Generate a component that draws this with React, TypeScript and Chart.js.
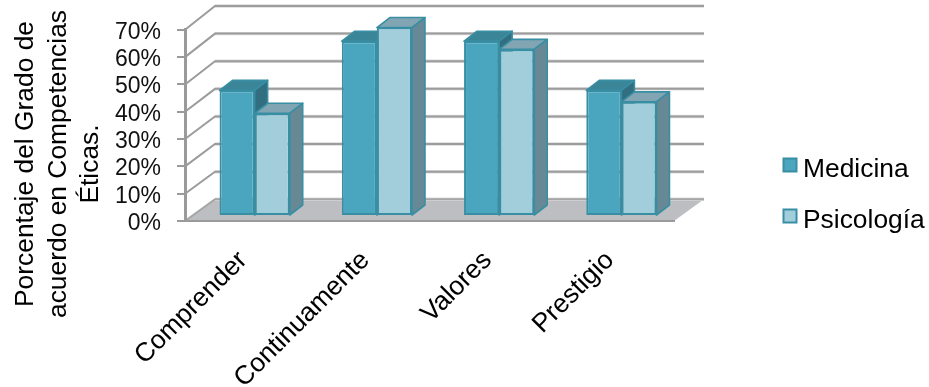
import React, { useEffect, useRef } from "react";
import { Chart, registerables } from "chart.js";

Chart.register(...registerables);

const categories = ["Comprender", "Continuamente", "Valores", "Prestigio"];
const medicina = [46, 64, 64, 46];
const psicologia = [37.6, 69, 61, 41.8];
const yTicks = [0, 10, 20, 30, 40, 50, 60, 70];
const axisTitle = ["Porcentaje del Grado de", "acuerdo en Competencias", "Éticas."];

const FONT = '"Liberation Sans", Arial, sans-serif';

// Depth vectors of the box: wall from the front plane, bars from the front plane, bar thickness.
const WALL = { dx: 30, dyBottom: -21.7, dyTop: -23.8 };
const BAR_SHIFT = { dx: 8.5, dy: -5 };
const BAR_DEPTH = { dx: 13, dy: -10 };

const palette = [
  { fill: "#4aa6bf", top: "#3a8698", side: "#316f80", edge: "#388ea3" },
  { fill: "#a2cedc", top: "#82a5b4", side: "#678995", edge: "#388ea3" },
];

function poly(ctx: CanvasRenderingContext2D, pts: number[][]) {
  ctx.beginPath();
  pts.forEach(([x, y], i) => (i ? ctx.lineTo(x, y) : ctx.moveTo(x, y)));
  ctx.closePath();
}

const box3d = {
  id: "box3d",
  // Floor, back wall lines and left wall diagonals sit behind the axes.
  beforeDraw(chart: any) {
    const { ctx, chartArea: a, scales } = chart;
    const y = scales.y;
    ctx.save();
    poly(ctx, [
      [a.left, a.bottom],
      [a.right, a.bottom],
      [a.right + WALL.dx, a.bottom + WALL.dyBottom],
      [a.left + WALL.dx, a.bottom + WALL.dyBottom],
    ]);
    ctx.fillStyle = "#bcbec2";
    ctx.fill();
    yTicks.forEach((v) => {
      const py = y.getPixelForValue(v);
      const back = py + WALL.dyBottom + ((WALL.dyTop - WALL.dyBottom) * v) / 70;
      ctx.lineWidth = 3.4;
      ctx.strokeStyle = "#dcdcdc";
      ctx.beginPath();
      ctx.moveTo(a.left + WALL.dx, back);
      ctx.lineTo(a.right + WALL.dx, back);
      ctx.stroke();
      ctx.lineWidth = 2;
      ctx.strokeStyle = v === 0 ? "#a5a5a5" : "#9c9c9c";
      ctx.beginPath();
      ctx.moveTo(a.left, py);
      ctx.lineTo(a.left + WALL.dx, back);
      ctx.lineTo(a.right + WALL.dx, back);
      ctx.stroke();
    });
    ctx.restore();
  },
  // Tops and sides of the bars, then the fronts are drawn by the bar controller on the shifted plane.
  beforeDatasetsDraw(chart: any) {
    const { ctx } = chart;
    ctx.save();
    ctx.translate(BAR_SHIFT.dx, BAR_SHIFT.dy);
    [0, 1].forEach((ds) => {
      const c = palette[ds];
      chart.getDatasetMeta(ds).data.forEach((bar: any) => {
        const { x, y, base, width } = bar.getProps(["x", "y", "base", "width"]);
        const l = x - width / 2;
        const r = x + width / 2;
        const { dx, dy } = BAR_DEPTH;
        ctx.lineWidth = 1.6;
        ctx.lineJoin = "round";
        ctx.strokeStyle = c.edge;
        poly(ctx, [[l, y], [r, y], [r + dx, y + dy], [l + dx, y + dy]]);
        ctx.fillStyle = c.top;
        ctx.fill();
        ctx.stroke();
        poly(ctx, [[r, y], [r + dx, y + dy], [r + dx, base + dy], [r, base]]);
        ctx.fillStyle = c.side;
        ctx.fill();
        ctx.stroke();
      });
    });
  },
  afterDatasetsDraw(chart: any) {
    chart.ctx.restore();
  },
  // Three-line rotated axis caption and the key on the right.
  afterDraw(chart: any) {
    const { ctx } = chart;
    ctx.save();
    ctx.fillStyle = "#000";
    ctx.font = `26.4px ${FONT}`;
    ctx.textAlign = "center";
    ctx.textBaseline = "alphabetic";
    const baselines = [33.3, 65.7, 97.7];
    axisTitle.forEach((line, i) => {
      ctx.save();
      ctx.translate(baselines[i], 164);
      ctx.rotate(-Math.PI / 2);
      ctx.fillText(line, 0, 0);
      ctx.restore();
    });
    ctx.textAlign = "left";
    chart.data.datasets.forEach((ds: any, i: number) => {
      const top = 158.5 + i * 51;
      ctx.fillStyle = ds.backgroundColor;
      ctx.strokeStyle = ds.borderColor;
      ctx.lineWidth = 2;
      ctx.fillRect(783.5, top, 13, 13);
      ctx.strokeRect(783.5, top, 13, 13);
      ctx.fillStyle = "#000";
      ctx.fillText(ds.label, 803, top + 18);
    });
    ctx.restore();
  },
};

export default function App() {
  const ref = useRef<HTMLCanvasElement>(null);

  useEffect(() => {
    const chart = new Chart(ref.current!, {
      type: "bar",
      data: {
        labels: categories,
        datasets: [
          {
            label: "Medicina",
            data: medicina,
            backgroundColor: palette[0].fill,
            borderColor: palette[0].edge,
            borderWidth: 2,
            borderSkipped: false,
            clip: false,
          },
          {
            label: "Psicología",
            data: psicologia,
            backgroundColor: palette[1].fill,
            borderColor: palette[1].edge,
            borderWidth: 2,
            borderSkipped: false,
            clip: false,
          },
        ],
      },
      options: {
        animation: false,
        responsive: false,
        barPercentage: 1,
        categoryPercentage: 0.574,
        layout: { padding: { top: 29.5, right: 255, bottom: 0, left: 0 } },
        plugins: { legend: { display: false }, tooltip: { enabled: false } },
        scales: {
          x: {
            afterFit: (s: any) => {
              s.height = 166;
            },
            border: { color: "#9a9a9a", width: 2 },
            grid: { display: false },
            ticks: {
              autoSkip: false,
              minRotation: 45,
              maxRotation: 45,
              padding: 16,
              labelOffset: -3,
              color: "#000",
              font: { family: FONT, size: 26.4 },
            },
          },
          y: {
            min: 0,
            max: 70,
            afterFit: (s: any) => {
              s.width = 185;
            },
            border: { color: "#9a9a9a", width: 3 },
            grid: { drawOnChartArea: false, color: "#9a9a9a", lineWidth: 2, tickLength: 8 },
            ticks: {
              autoSkip: false,
              stepSize: 10,
              padding: 16,
              labelOffset: 2.5,
              color: "#111",
              font: { family: FONT, size: 23 },
              callback: (v: any) => `${v}%`,
            },
          },
        },
      } as any,
      plugins: [box3d],
    });
    return () => chart.destroy();
  }, []);

  return (
    <div style={{ position: "absolute", left: 0, top: 0, width: 929, height: 387, background: "#fff" }}>
      <canvas ref={ref} width={929} height={387} style={{ display: "block" }} />
    </div>
  );
}
